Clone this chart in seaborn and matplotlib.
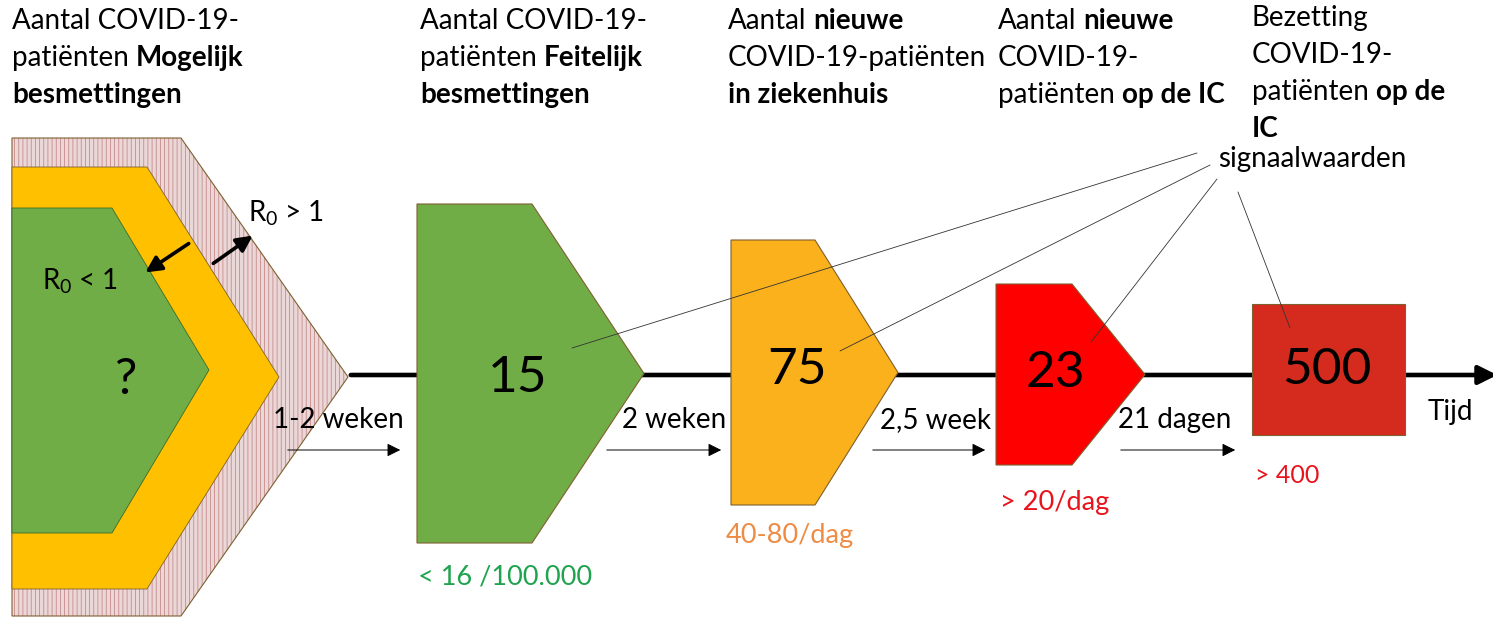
import matplotlib
matplotlib.use("Agg")
import matplotlib.pyplot as plt
import seaborn as sns
from matplotlib.patches import Polygon

# ---- chart content ----
stage_values = ["15", "75", "23", "500"]
stage_thresholds = ["< 16 /100.000", "40-80/dag", "> 20/dag", "> 400"]
durations = ["1-2 weken", "2 weken", "2,5 week", "21 dagen"]
r0_labels = ["R$_0$ > 1", "R$_0$ < 1"]
unknown_label = "?"
signal_label = "signaalwaarden"
time_label = "Tijd"

# header lines: list of (text, bold) segments per line
headers = [
    [[("Aantal COVID-19-", False)],
     [("patiënten", False), ("Mogelijk", True)],
     [("besmettingen", True)]],
    [[("Aantal COVID-19-", False)],
     [("patiënten", False), ("Feitelijk", True)],
     [("besmettingen", True)]],
    [[("Aantal", False), ("nieuwe", True)],
     [("COVID-19-patiënten", False)],
     [("in ziekenhuis", True)]],
    [[("Aantal", False), ("nieuwe", True)],
     [("COVID-19-", False)],
     [("patiënten", False), ("op de IC", True)]],
    [[("Bezetting", False)],
     [("COVID-19-", False)],
     [("patiënten", False), ("op de", True)],
     [("IC", True)]],
]

# ---- colours ----
stage_colors = sns.color_palette(["#70ad47", "#fbb11c", "#ff0000", "#d52b1e"])
threshold_colors = ["#1fa34f", "#ee8c45", "#e8141c", "#e8141c"]
yellow = "#ffc000"
edge = "#7f6030"

# ---- layout (pixel space) ----
stage_left = [417, 731, 996, 1252]
stage_shoulder = [532, 815, 1072, 1405]
stage_tip = [644, 898, 1145, 1405]
stage_top = [204, 240, 284, 304]
stage_bottom = [543, 505, 465, 435]
number_xy = [(518, 378), (797, 370), (1055, 373), (1327, 370)]
threshold_xy = [(418, 585), (726, 543), (1000, 510), (1255, 483)]
threshold_fs = [19.5, 19.5, 19.5, 18]
duration_xy = [(273, 428), (622, 428), (880, 428), (1118, 428)]
duration_arrows = [(285, 403), (604, 724), (870, 988), (1118, 1238)]
header_x = [12, 420, 728, 998, 1252]
header_y0 = [29, 29, 29, 29, 26]
line_step = 37
signal_starts = [(1197, 153), (1210, 165), (1217, 179), (1238, 192)]
signal_ends = [(572, 348), (840, 351), (1091, 342), (1290, 328)]

sns.set_theme(style="white")
plt.rcParams["font.family"] = ["Lato", "DejaVu Sans"]
plt.rcParams["text.color"] = "black"
plt.rcParams["mathtext.fontset"] = "custom"
plt.rcParams["mathtext.rm"] = "Lato"
plt.rcParams["mathtext.it"] = "Lato:italic"
plt.rcParams["hatch.linewidth"] = 0.6

W, H = 1493, 618
fig = plt.figure(figsize=(W / 100, H / 100), dpi=100)
ax = fig.add_axes([0, 0, 1, 1])
ax.set_xlim(0, W)
ax.set_ylim(H, 0)
ax.axis("off")
FS = 20


def hexagon(left, top, shoulder, tip, bottom, mid=None):
    if mid is None:
        mid = (top + bottom) / 2
    return [(left, top), (shoulder, top), (tip, mid), (shoulder, bottom), (left, bottom)]


# time axis
ax.annotate("", xy=(1500, 375), xytext=(348, 375),
            arrowprops=dict(arrowstyle="-|>", lw=3.3, color="black", mutation_scale=28),
            zorder=1, annotation_clip=False)

# left nested hexagons (possible infections)
outer = hexagon(12, 138, 181, 348, 616, 377)
ax.add_patch(Polygon(outer, closed=True, facecolor="#ead8d8", edgecolor="#c88a8a",
                     hatch="||||", lw=0, zorder=2))
ax.add_patch(Polygon(outer, closed=True, fill=False, edgecolor=edge, lw=0.8, zorder=2))
ax.add_patch(Polygon(hexagon(12, 167, 147, 279, 589, 377), closed=True,
                     facecolor=yellow, edgecolor=edge, lw=0.6, zorder=2))
ax.add_patch(Polygon(hexagon(12, 208, 112, 209, 533, 370), closed=True,
                     facecolor=stage_colors[0], edgecolor="#3e6b28", lw=0.6, zorder=2))
ax.text(126, 380, unknown_label, fontsize=36, ha="center", va="center", zorder=5)

# R0 arrows
ax.annotate("", xy=(143, 274), xytext=(191, 242),
            arrowprops=dict(arrowstyle="-|>", lw=2.6, color="black", mutation_scale=24), zorder=5)
ax.annotate("", xy=(255, 234), xytext=(211, 265),
            arrowprops=dict(arrowstyle="-|>", lw=2.6, color="black", mutation_scale=24), zorder=5)
ax.text(248, 222, r0_labels[0], fontsize=FS, va="baseline", zorder=5)
ax.text(42, 290, r0_labels[1], fontsize=FS, va="baseline", zorder=5)

# stage shapes
for i, val in enumerate(stage_values):
    pts = hexagon(stage_left[i], stage_top[i], stage_shoulder[i], stage_tip[i], stage_bottom[i])
    ax.add_patch(Polygon(pts, closed=True, facecolor=stage_colors[i], edgecolor=edge,
                         lw=0.8, zorder=2))
    ax.text(number_xy[i][0], number_xy[i][1], val, fontsize=37, ha="center", va="center", zorder=5)
    ax.text(threshold_xy[i][0], threshold_xy[i][1], stage_thresholds[i], fontsize=threshold_fs[i],
            color=threshold_colors[i], va="baseline", zorder=5)

# durations
for i, lab in enumerate(durations):
    ax.text(duration_xy[i][0], duration_xy[i][1], lab, fontsize=FS, va="baseline", zorder=5)
    x0, x1 = duration_arrows[i]
    ax.annotate("", xy=(x1, 450), xytext=(x0, 450),
                arrowprops=dict(arrowstyle="-|>", lw=0.7, color="black", mutation_scale=20),
                zorder=4)

ax.text(1428, 420, time_label, fontsize=FS, va="baseline", zorder=5)

# signal value pointer lines
for (x0, y0), (x1, y1) in zip(signal_starts, signal_ends):
    ax.plot([x0, x1], [y0, y1], color="#333333", lw=0.6, zorder=4)
ax.text(1218, 167, signal_label, fontsize=FS, va="baseline", zorder=5)

# headers with mixed regular / bold segments
renderer = fig.canvas.get_renderer()
for hx, hy, lines in zip(header_x, header_y0, headers):
    for j, segs in enumerate(lines):
        x = hx
        y = hy + j * line_step
        for k, (seg, bold) in enumerate(segs):
            if k > 0:
                x += FS * 0.36
            t = ax.text(x, y, seg, fontsize=FS, va="baseline",
                        fontweight="bold" if bold else "normal", zorder=5)
            x += t.get_window_extent(renderer=renderer).width

fig.savefig("out.png", dpi=100)
